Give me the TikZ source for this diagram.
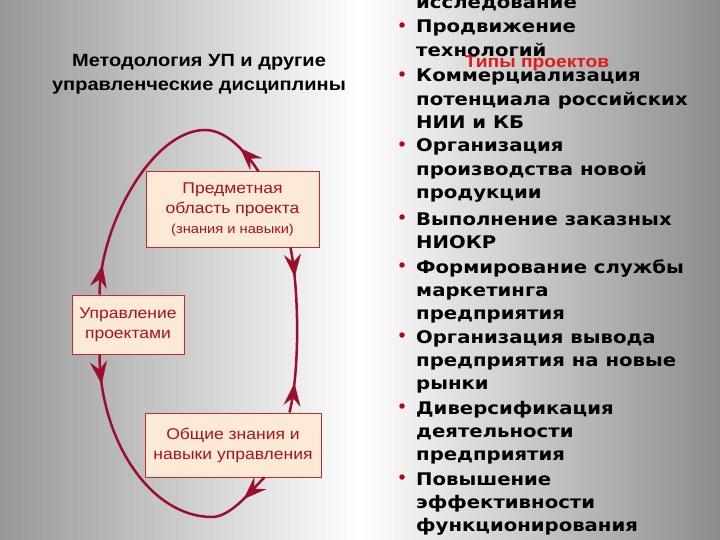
\documentclass[tikz,border=0pt]{standalone}
\usepackage{fontspec}
\usetikzlibrary{arrows.meta,decorations.markings,calc}
\setmainfont{Liberation Sans}
\newfontfamily\stretchsans{Liberation Sans}[FakeStretch=1.13]
\newfontfamily\listfamily{DejaVu Sans}[FakeStretch=1.13]
\definecolor{curvecol}{RGB}{155,15,45}
\definecolor{boxfill}{RGB}{253,233,216}
\definecolor{boxdraw}{RGB}{190,45,45}
\definecolor{boxtext}{RGB}{165,20,25}
\definecolor{bulletcol}{RGB}{175,10,20}
\definecolor{typecol}{RGB}{225,25,25}
\definecolor{bgleft}{RGB}{152,152,152}
\definecolor{bgright}{RGB}{140,140,140}
\begin{document}
\begin{tikzpicture}[x=1pt,y=-1pt,
  box/.style={draw=boxdraw, line width=1pt, fill=boxfill, text=boxtext, align=center, inner sep=0pt,
    font=\stretchsans\fontsize{15.5}{20}\selectfont},
  titletext/.style={align=center, inner sep=0pt, text=black,
    font=\stretchsans\bfseries\fontsize{17.7}{24}\selectfont},
  typestext/.style={inner sep=0pt, text=typecol,
    font=\stretchsans\bfseries\fontsize{17}{20}\selectfont},
  listitem/.style={anchor=base west, align=left, inner sep=0pt, text=black,
    font=\listfamily\bfseries\fontsize{17.4}{23.2}\selectfont},
  dot/.style={circle, fill=bulletcol, inner sep=0pt, minimum size=5.5pt},
  arrowends/.style={decoration={markings,
     mark=at position 30pt with {\arrow{Stealth[length=23pt,width=17pt,inset=8pt]}},
     mark=at position -30pt with {\arrowreversed{Stealth[length=23pt,width=17pt,inset=8pt]}}}},
  link/.style={color=curvecol, line width=2.5pt, arrowends, postaction={decorate}}
]
\useasboundingbox (0,0) rectangle (720,540);
\shade[left color=bgleft, right color=bgright, middle color=white] (0,0) rectangle (720,540);

% title (base anchor = baseline of the last line)
\node[titletext, anchor=base] (title) at (199,91) {Методология УП и другие\\управленческие дисциплины};

% boxes
\node[box, minimum width=173pt, minimum height=75pt] (p) at (232.5,209.5)
  {Предметная\\область проекта\\{\fontsize{13}{17}\selectfont(знания и навыки)}};
\node[box, minimum width=112pt, minimum height=59pt] (u) at (128,324.5)
  {Управление\\проектами};
\node[box, minimum width=176pt, minimum height=64pt] (o) at (233,445)
  {Общие знания и\\навыки управления};

% curves
\draw[link] ([xshift=28pt]u.north west) .. controls (100,224) and (153,130) .. (205,130)
  .. controls (228,130) and (248,155) .. ([xshift=113pt]p.north west);
\draw[link] ([xshift=-29pt]p.south east) .. controls (299,290) and (300,370) .. ([xshift=-32pt]o.north east);
\draw[link] ([xshift=28pt]u.south west) .. controls (100,441) and (151,517) .. (212,517)
  .. controls (232,517) and (254,487) .. ([xshift=-57pt]o.south east);

% right list (base anchor = baseline of the last line of each item)
\node[typestext, anchor=base] (types) at (537,68) {Типы проектов};
\node[listitem] (i0) at (416,8.6) {исследование};
\node[dot] (b1) at (402,25) {};
\node[listitem] (i1) at (416,56.2) {Продвижение\\технологий};
\node[dot] (b2) at (402,74) {};
\node[listitem] (i2) at (416,128.4) {Коммерциализация\\потенциала российских\\НИИ и КБ};
\node[dot] (b3) at (402,144) {};
\node[listitem] (i3) at (416,198.4) {Организация\\производства новой\\продукции};
\node[dot] (b4) at (402,217) {};
\node[listitem] (i4) at (416,248.2) {Выполнение заказных\\НИОКР};
\node[dot] (b5) at (402,265) {};
\node[listitem] (i5) at (416,319.4) {Формирование службы\\маркетинга\\предприятия};
\node[dot] (b6) at (402,335) {};
\node[listitem] (i6) at (416,389.4) {Организация вывода\\предприятия на новые\\рынки};
\node[dot] (b7) at (402,406) {};
\node[listitem] (i7) at (416,460.4) {Диверсификация\\деятельности\\предприятия};
\node[dot] (b8) at (402,477) {};
\node[listitem] (i8) at (416,531.4) {Повышение\\эффективности\\функционирования};
\end{tikzpicture}
\end{document}
